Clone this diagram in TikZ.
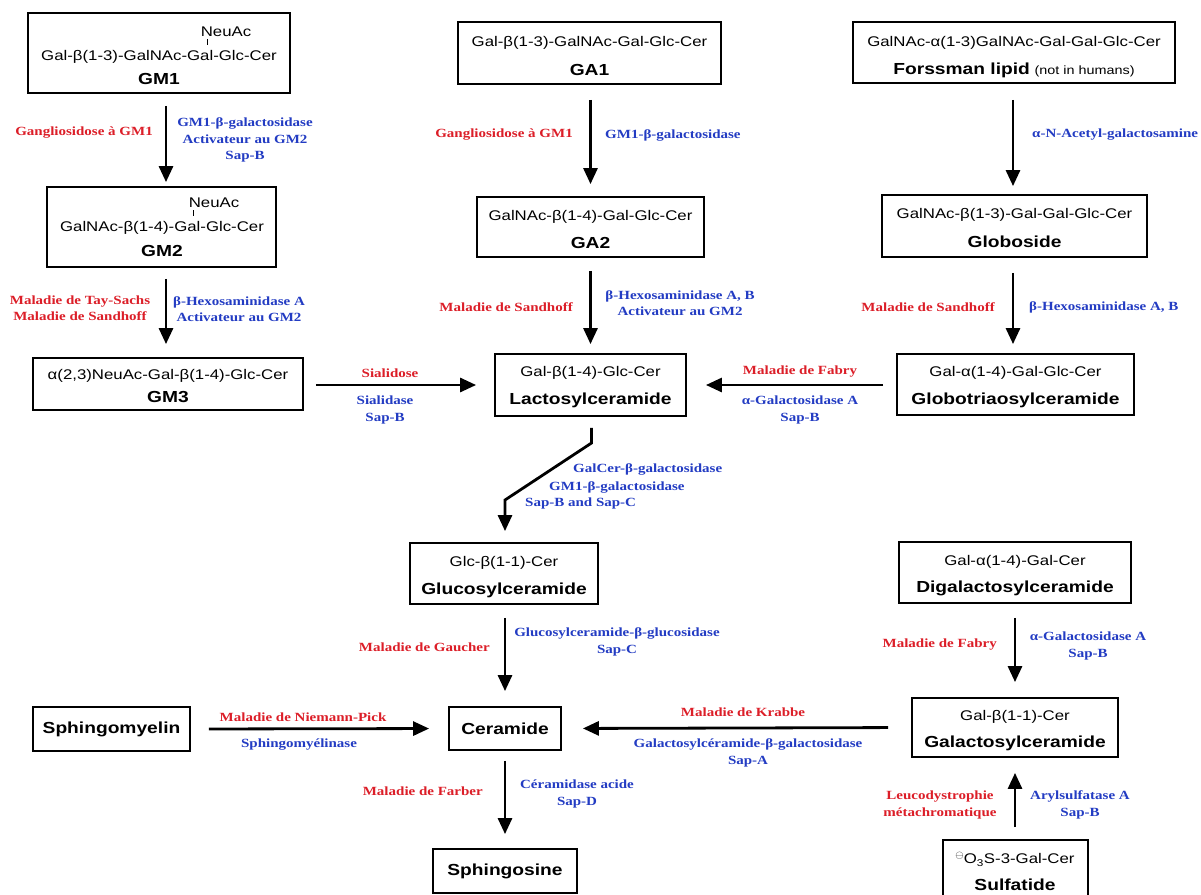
\documentclass[tikz,border=0pt]{standalone}
\usepackage{fontspec}
\setmainfont{Liberation Sans}[FakeStretch=1.2]
\newfontfamily\serifbf{Liberation Serif}[FakeStretch=1.2]
\usetikzlibrary{arrows.meta}
\definecolor{disred}{RGB}{220,30,40}
\definecolor{enzblue}{RGB}{35,60,195}
\tikzset{
 box/.style={draw, line width=1.8pt, inner sep=0pt},
 chain/.style={inner sep=0pt, font=\fontsize{14}{16}\selectfont},
 ttl/.style={inner sep=0pt, font=\fontsize{16}{18}\selectfont\bfseries},
 dis/.style={inner sep=0pt, align=center, text=disred, font=\serifbf\bfseries\fontsize{12.5}{16.5}\selectfont},
 enz/.style={inner sep=0pt, align=center, text=enzblue, font=\serifbf\bfseries\fontsize{12.5}{16.5}\selectfont},
 arr/.style={line width=2.8pt, -{Triangle[length=16pt,width=14pt]}},
 tick/.style={line width=0.9pt},
}
\begin{document}
\begin{tikzpicture}[x=1pt,y=-1pt]
\clip (0,0) rectangle (1201,894);
\fill[white] (0,0) rectangle (1201,894);

% ---------- boxes ----------
\node[box, minimum width=262pt, minimum height=80pt] (gm1) at (159,53) {};
\node[chain] (gm1n) at (226,32) {NeuAc};
\node[chain] (gm1c) at (159,57) {Gal-β(1-3)-GalNAc-Gal-Glc-Cer};
\node[ttl] (gm1t) at (159,79) {GM1};
\coordinate (gm1k1) at (207,39);
\coordinate (gm1k2) at (207,45);
\draw[tick] (gm1k1) -- (gm1k2);

\node[box, minimum width=229pt, minimum height=80pt] (gm2) at (161.5,227) {};
\node[chain] (gm2n) at (214,203) {NeuAc};
\node[chain] (gm2c) at (162,228) {GalNAc-β(1-4)-Gal-Glc-Cer};
\node[ttl] (gm2t) at (162,251) {GM2};
\coordinate (gm2k1) at (193,210);
\coordinate (gm2k2) at (193,216);
\draw[tick] (gm2k1) -- (gm2k2);

\node[box, minimum width=270pt, minimum height=52pt] (gm3) at (168,384) {};
\node[chain] (gm3c) at (168,376) {α(2,3)NeuAc-Gal-β(1-4)-Glc-Cer};
\node[ttl] (gm3t) at (168,397) {GM3};

\node[box, minimum width=263pt, minimum height=62pt] (ga1) at (589.5,53) {};
\node[chain] (ga1c) at (589.5,43) {Gal-β(1-3)-GalNAc-Gal-Glc-Cer};
\node[ttl] (ga1t) at (589.5,70) {GA1};

\node[box, minimum width=227pt, minimum height=60pt] (ga2) at (590.5,227) {};
\node[chain] (ga2c) at (590.5,217) {GalNAc-β(1-4)-Gal-Glc-Cer};
\node[ttl] (ga2t) at (590.5,243) {GA2};

\node[box, minimum width=191pt, minimum height=62pt] (lac) at (590.5,385) {};
\node[chain] (lacc) at (590.5,373) {Gal-β(1-4)-Glc-Cer};
\node[ttl] (lact) at (590.5,400) {Lactosylceramide};

\node[box, minimum width=322pt, minimum height=61pt] (fors) at (1014,52.5) {};
\node[chain] (forsc) at (1014,43) {GalNAc-α(1-3)GalNAc-Gal-Gal-Glc-Cer};
\node[chain] (forst) at (1014,70) {{\bfseries\fontsize{16}{18}\selectfont Forssman lipid} {\fontsize{12}{14}\selectfont (not in humans)}};

\node[box, minimum width=265pt, minimum height=62pt] (glob) at (1014.5,226) {};
\node[chain] (globc) at (1014.5,215) {GalNAc-β(1-3)-Gal-Gal-Glc-Cer};
\node[ttl] (globt) at (1014.5,242) {Globoside};

\node[box, minimum width=237pt, minimum height=61pt] (gtri) at (1015.5,384.5) {};
\node[chain] (gtric) at (1015.5,373) {Gal-α(1-4)-Gal-Glc-Cer};
\node[ttl] (gtrit) at (1015.5,400) {Globotriaosylceramide};

\node[box, minimum width=188pt, minimum height=61pt] (glc) at (504,573.5) {};
\node[chain] (glcc) at (504,563) {Glc-β(1-1)-Cer};
\node[ttl] (glct) at (504,590) {Glucosylceramide};

\node[box, minimum width=232pt, minimum height=61pt] (dig) at (1015,572.5) {};
\node[chain] (digc) at (1015,562) {Gal-α(1-4)-Gal-Cer};
\node[ttl] (digt) at (1015,588) {Digalactosylceramide};

\node[box, minimum width=206pt, minimum height=59pt] (gal) at (1015,727.5) {};
\node[chain] (galc) at (1015,717) {Gal-β(1-1)-Cer};
\node[ttl] (galt) at (1015,743) {Galactosylceramide};

\node[box, minimum width=145pt, minimum height=66pt] (sulf) at (1015.5,873) {};
\node[chain] (sulfc) at (1015,859) {\raisebox{0.8ex}{\scalebox{0.75}{$\ominus$}}O\textsubscript{3}S-3-Gal-Cer};
\node[ttl] (sulft) at (1015,885) {Sulfatide};

\node[box, ttl, minimum width=157pt, minimum height=44pt] (sm) at (111.5,729) {Sphingomyelin};
\node[box, ttl, minimum width=112pt, minimum height=43pt] (cer) at (505,728.5) {Ceramide};
\node[box, ttl, minimum width=144pt, minimum height=44pt] (sph) at (505,871) {Sphingosine};

% ---------- arrows ----------
\draw[arr, shorten <=12pt, shorten >=4pt] ([xshift=7pt]gm1.south) -- ([xshift=4.5pt]gm2.north);
\draw[arr, shorten <=11pt, shorten >=13pt] ([xshift=4.5pt]gm2.south) -- ([xshift=-2pt]gm3.north);
\draw[arr, shorten <=15pt, shorten >=12pt] (ga1.south -| ga2.north) -- (ga2.north);
\draw[arr, shorten <=13pt, shorten >=9pt] (ga2.south) -- (lac.north);
\draw[arr, shorten <=16pt, shorten >=8pt] ([xshift=-1pt]fors.south) -- ([xshift=-1.5pt]glob.north);
\draw[arr, shorten <=15pt, shorten >=9pt] ([xshift=-1.5pt]glob.south) -- ([xshift=-2.5pt]gtri.north);
\draw[arr, shorten <=12pt, shorten >=18pt] (gm3.east |- lac.west) -- (lac.west);
\draw[arr, shorten <=13pt, shorten >=19pt] (gtri.west |- lac.east) -- (lac.east);
\coordinate (lb1) at (591.5,443);
\coordinate (lb2) at (505,500);
\draw[arr, shorten <=11pt, shorten >=11pt] ([xshift=1pt]lac.south) -- (lb1) -- (lb2) -- ([xshift=1pt]glc.north);
\draw[arr, shorten <=13pt, shorten >=15pt] ([xshift=1pt]glc.south) -- (cer.north);
\draw[arr, shorten <=18pt, shorten >=19pt] (sm.east) -- (cer.west);
\draw[arr, shorten <=23pt, shorten >=21pt] (gal.west) -- (cer.east);
\draw[arr, shorten <=10pt, shorten >=14pt] (cer.south) -- (sph.north);
\draw[arr, shorten <=14pt, shorten >=15pt] (dig.south) -- (gal.north);
\draw[arr, shorten <=12pt, shorten >=15pt] ([xshift=-0.5pt]sulf.north) -- (gal.south);

% ---------- labels ----------
\node[dis, anchor=east] (d1) at (153,133) {Gangliosidose à GM1};
\node[enz] (e1) at (245,140) {GM1-β-galactosidase\\Activateur au GM2\\Sap-B};
\node[dis, anchor=east] (d2) at (573,135) {Gangliosidose à GM1};
\node[enz, anchor=west] (e2) at (605,135) {GM1-β-galactosidase};
\node[enz, anchor=west] (e3) at (1032,135) {α-N-Acetyl-galactosamine};
\node[dis] (d4) at (80,308) {Maladie de Tay-Sachs\\Maladie de Sandhoff};
\node[enz] (e4) at (239,309) {β-Hexosaminidase A\\Activateur au GM2};
\node[dis, anchor=east] (d5) at (573,307) {Maladie de Sandhoff};
\node[enz] (e5) at (680,303) {β-Hexosaminidase A, B\\Activateur au GM2};
\node[dis, anchor=east] (d6) at (995,307) {Maladie de Sandhoff};
\node[enz, anchor=west] (e6) at (1029,307) {β-Hexosaminidase A, B};
\node[dis] (d7) at (390,373) {Sialidose};
\node[enz] (e7) at (385,410) {Sialidase\\Sap-B};
\node[dis] (d8) at (800,372) {Maladie de Fabry};
\node[enz] (e8) at (800,410) {α-Galactosidase A\\Sap-B};
\node[enz, anchor=west] (e9a) at (573,469) {GalCer-β-galactosidase};
\node[enz, anchor=west] (e9b) at (549,487) {GM1-β-galactosidase};
\node[enz, anchor=west] (e9c) at (525,503) {Sap-B and Sap-C};
\node[dis, anchor=east] (d10) at (490,647) {Maladie de Gaucher};
\node[enz] (e10) at (617,642) {Glucosylceramide-β-glucosidase\\Sap-C};
\node[dis] (d11) at (303,717) {Maladie de Niemann-Pick};
\node[enz] (e11) at (299,745) {Sphingomyélinase};
\node[dis] (d12) at (743,712) {Maladie de Krabbe};
\node[enz] (e12) at (748,753) {Galactosylcéramide-β-galactosidase\\Sap-A};
\node[dis, anchor=east] (d13) at (483,791) {Maladie de Farber};
\node[enz] (e13) at (577,794) {Céramidase acide\\Sap-D};
\node[dis, anchor=east] (d14) at (997,645) {Maladie de Fabry};
\node[enz] (e14) at (1088,646) {α-Galactosidase A\\Sap-B};
\node[dis] (d15) at (940,805) {Leucodystrophie\\métachromatique};
\node[enz] (e15) at (1080,805) {Arylsulfatase A\\Sap-B};
\end{tikzpicture}
\end{document}
